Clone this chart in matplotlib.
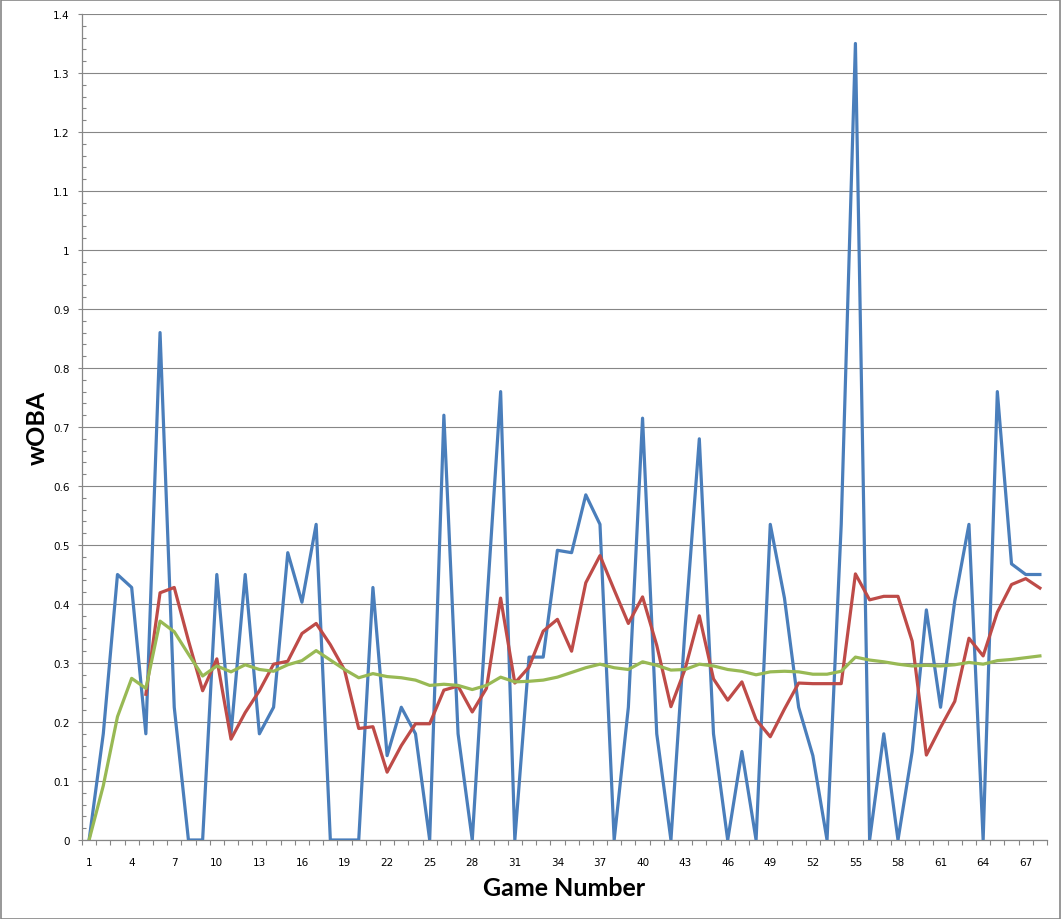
import numpy as np
import matplotlib.pyplot as plt
from matplotlib.patches import Rectangle
from matplotlib.ticker import FixedLocator, MultipleLocator

games = list(range(1, 69))

# wOBA per game
game_woba = [0, 0.18, 0.45, 0.428, 0.18, 0.86, 0.225, 0, 0, 0.45,
             0.18, 0.45, 0.18, 0.225, 0.487, 0.403, 0.535, 0, 0, 0,
             0.428, 0.143, 0.225, 0.18, 0, 0.72, 0.18, 0, 0.39, 0.76,
             0, 0.31, 0.31, 0.491, 0.487, 0.585, 0.535, 0, 0.225, 0.715,
             0.18, 0, 0.36, 0.68, 0.18, 0, 0.15, 0, 0.535, 0.41,
             0.225, 0.143, 0, 0.535, 1.35, 0, 0.18, 0, 0.15, 0.39,
             0.225, 0.405, 0.535, 0, 0.76, 0.468, 0.45, 0.45]

# rolling wOBA (starts at game 5)
rolling_woba = [None, None, None, None,
                0.247, 0.419, 0.428, 0.338, 0.253, 0.307, 0.171, 0.216, 0.253, 0.298,
                0.303, 0.35, 0.367, 0.331, 0.288, 0.189, 0.192, 0.115, 0.16, 0.197,
                0.197, 0.254, 0.261, 0.217, 0.257, 0.41, 0.266, 0.293, 0.354, 0.374,
                0.32, 0.436, 0.482, 0.424, 0.367, 0.412, 0.33, 0.226, 0.29, 0.38,
                0.273, 0.237, 0.268, 0.204, 0.175, 0.222, 0.266, 0.265, 0.265, 0.265,
                0.451, 0.407, 0.413, 0.413, 0.337, 0.144, 0.191, 0.235, 0.342, 0.312,
                0.386, 0.433, 0.443, 0.427]

# season-to-date wOBA
season_woba = [0, 0.092, 0.209, 0.274, 0.257, 0.371, 0.353, 0.315, 0.278, 0.295,
               0.285, 0.297, 0.289, 0.286, 0.297, 0.304, 0.321, 0.305, 0.289, 0.275,
               0.282, 0.277, 0.275, 0.271, 0.262, 0.264, 0.262, 0.255, 0.262, 0.276,
               0.268, 0.269, 0.271, 0.276, 0.284, 0.292, 0.298, 0.292, 0.289, 0.302,
               0.296, 0.288, 0.289, 0.298, 0.295, 0.289, 0.286, 0.28, 0.285, 0.286,
               0.285, 0.281, 0.281, 0.286, 0.31, 0.305, 0.302, 0.298, 0.295, 0.296,
               0.295, 0.297, 0.301, 0.298, 0.304, 0.306, 0.309, 0.312]

y_ticks = [i / 10 for i in range(15)]
y_labels = ['0', '0.1', '0.2', '0.3', '0.4', '0.5', '0.6', '0.7', '0.8', '0.9',
            '1', '1.1', '1.2', '1.3', '1.4']

grid_color = '#868686'

fig = plt.figure(figsize=(10.62, 9.2), dpi=100)
ax = fig.add_axes([82 / 1062, 79 / 920, 965 / 1062, 826 / 920])

# outer chart border
fig.patches.append(Rectangle((0.0005, 0.0005), 0.998, 0.998, transform=fig.transFigure,
                             fill=False, edgecolor=grid_color, linewidth=1.2))

rolling = np.array([np.nan if v is None else v for v in rolling_woba])

ax.plot(games, game_woba, color='#4A7EBB', linewidth=2.3, zorder=3)
ax.plot(games, rolling, color='#BE4B48', linewidth=2.3, zorder=4)
ax.plot(games, season_woba, color='#98B954', linewidth=2.3, zorder=5)

ax.set_ylim(0, 1.4)
ax.set_xlim(0.5, 68.5)

ax.set_yticks(y_ticks)
ax.set_yticklabels(y_labels)
ax.yaxis.set_minor_locator(MultipleLocator(0.02))
ax.grid(axis='y', which='major', color=grid_color, linewidth=0.8, zorder=0)
ax.set_axisbelow(True)

ax.set_xticks(games[::3])
ax.set_xticklabels([str(g) for g in games[::3]])
ax.xaxis.set_minor_locator(FixedLocator(np.arange(0.5, 69, 1)))

ax.tick_params(axis='x', which='major', length=0, pad=12, labelsize=7.5)
ax.tick_params(axis='x', which='minor', length=3.5, width=0.8, color=grid_color)
ax.tick_params(axis='y', which='major', direction='out', length=3, width=0.8,
               color=grid_color, labelsize=7.5, pad=6)
ax.tick_params(axis='y', which='minor', direction='in', length=3, width=0.8,
               color=grid_color)

for side in ['top', 'right']:
    ax.spines[side].set_visible(False)
for side in ['left', 'bottom']:
    ax.spines[side].set_color(grid_color)
    ax.spines[side].set_linewidth(0.9)

ax.set_xlabel('Game Number', fontsize=18, fontweight='bold', family='Lato', labelpad=7)
ax.set_ylabel('wOBA', fontsize=18, fontweight='bold', family='Lato', labelpad=3)

fig.savefig('out.png', dpi=100)
